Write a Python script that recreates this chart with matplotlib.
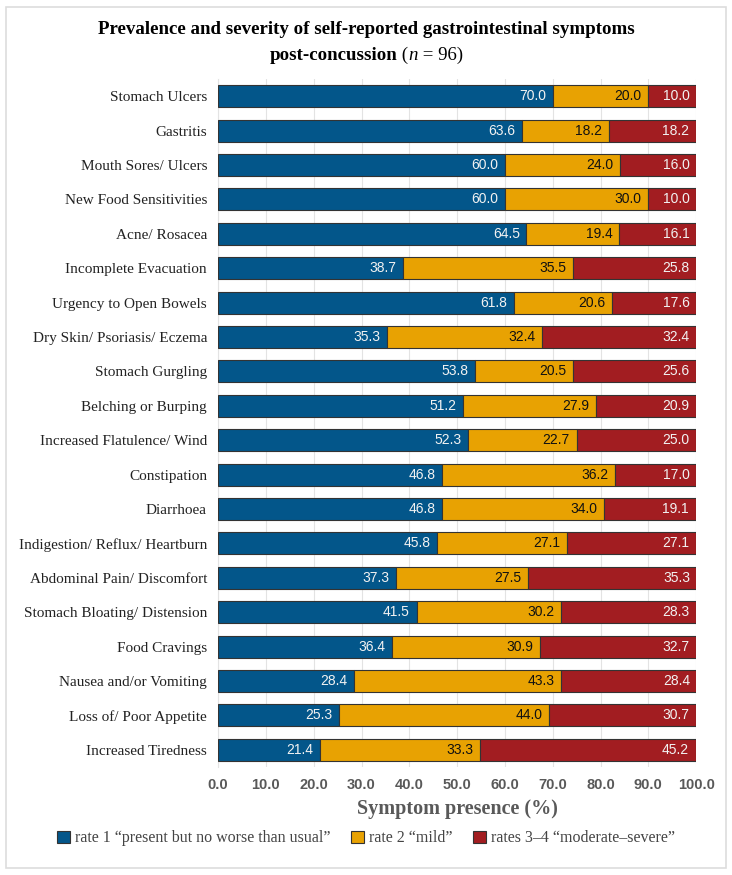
import numpy as np
import matplotlib.pyplot as plt
from matplotlib.patches import Rectangle

symptoms = ["Stomach Ulcers", "Gastritis", "Mouth Sores/ Ulcers", "New Food Sensitivities",
            "Acne/ Rosacea", "Incomplete Evacuation", "Urgency to Open Bowels",
            "Dry Skin/ Psoriasis/ Eczema", "Stomach Gurgling", "Belching or Burping",
            "Increased Flatulence/ Wind", "Constipation", "Diarrhoea",
            "Indigestion/ Reflux/ Heartburn", "Abdominal Pain/ Discomfort",
            "Stomach Bloating/ Distension", "Food Cravings", "Nausea and/or Vomiting",
            "Loss of/ Poor Appetite", "Increased Tiredness"]
rate1 = [70.0, 63.6, 60.0, 60.0, 64.5, 38.7, 61.8, 35.3, 53.8, 51.2,
         52.3, 46.8, 46.8, 45.8, 37.3, 41.5, 36.4, 28.4, 25.3, 21.4]
rate2 = [20.0, 18.2, 24.0, 30.0, 19.4, 35.5, 20.6, 32.4, 20.5, 27.9,
         22.7, 36.2, 34.0, 27.1, 27.5, 30.2, 30.9, 43.3, 44.0, 33.3]
rate34 = [10.0, 18.2, 16.0, 10.0, 16.1, 25.8, 17.6, 32.4, 25.6, 20.9,
          25.0, 17.0, 19.1, 27.1, 35.3, 28.3, 32.7, 28.4, 30.7, 45.2]
series_names = ["rate 1 \u201cpresent but no worse than usual\u201d",
                "rate 2 \u201cmild\u201d",
                "rates 3\u20134 \u201cmoderate\u2013severe\u201d"]
colors = ["#03568a", "#e8a202", "#a21d21"]
text_colors = ["#f2f2f2", "#111111", "#f2f2f2"]
xticks = np.arange(0, 101, 10)

serif = "Liberation Serif"
sans = "Liberation Sans"

fig = plt.figure(figsize=(7.32, 8.75), dpi=100)
fig.patches.append(Rectangle((0.008, 0.008), 0.984, 0.984, transform=fig.transFigure,
                             fill=False, edgecolor="#dddddd", lw=1.2))
ax = fig.add_axes([0.298, 0.1234, 0.653, 0.7863])

y = np.arange(len(symptoms))
left = np.zeros(len(symptoms))
for vals, col, tc, name in zip([rate1, rate2, rate34], colors, text_colors, series_names):
    vals = np.array(vals)
    ax.barh(y, vals, left=left, height=0.64, color=col, edgecolor="#333333",
            linewidth=0.8, label=name, zorder=3)
    for yi, l, v in zip(y, left, vals):
        ax.text(l + v - 1.4, yi, "%.1f" % v, ha="right", va="center", color=tc,
                fontsize=10, family=sans, zorder=4)
    left = left + vals

ax.set_ylim(len(symptoms) - 0.5, -0.5)
ax.set_xlim(0, 100)
ax.set_xticks(xticks)
ax.set_xticklabels(["%.1f" % t for t in xticks], fontsize=10.5, fontweight="bold",
                   color="#595959", family=sans)
ax.set_yticks(y)
ax.set_yticklabels(symptoms, fontsize=11, family=serif, color="#222222")
ax.tick_params(axis="both", length=0, pad=8)
ax.grid(axis="x", color="#e3e3e3", lw=0.8, zorder=0)
for s in ["top", "right", "bottom"]:
    ax.spines[s].set_visible(False)
ax.spines["left"].set_color("#e3e3e3")
ax.set_xlabel("Symptom presence (%)", fontsize=14.5, fontweight="bold", color="#595959",
              family=serif, labelpad=5)

# title, second line: bold part + regular "(n = 96)"
fig.text(0.5, 0.966, "Prevalence and severity of self-reported gastrointestinal symptoms",
         ha="center", va="center", fontsize=13.6, fontweight="bold", family=serif)
t1 = fig.text(0.5, 0.937, "post-concussion", ha="left", va="center",
              fontsize=13.6, fontweight="bold", family=serif)
t2 = fig.text(0.5, 0.937, " (", ha="left", va="center", fontsize=13.6, family=serif)
t3 = fig.text(0.5, 0.937, "n", ha="left", va="center", fontsize=13.6, family=serif,
              style="italic")
t4 = fig.text(0.5, 0.937, " = 96)", ha="left", va="center", fontsize=13.6, family=serif)
r = fig.canvas.get_renderer()
parts = [t1, t2, t3, t4]
widths = [p.get_window_extent(r).width / fig.bbox.width for p in parts]
x0 = 0.5 - sum(widths) / 2
for p, w in zip(parts, widths):
    p.set_x(x0)
    x0 += w

leg = fig.legend(loc="center", bbox_to_anchor=(0.5, 0.042), ncol=3, frameon=False,
                 prop={"family": serif, "size": 11.5}, handlelength=0.8,
                 handleheight=0.8, handletextpad=0.3, columnspacing=1.3)
for t in leg.get_texts():
    t.set_color("#444444")

fig.savefig("out.png", dpi=100)
